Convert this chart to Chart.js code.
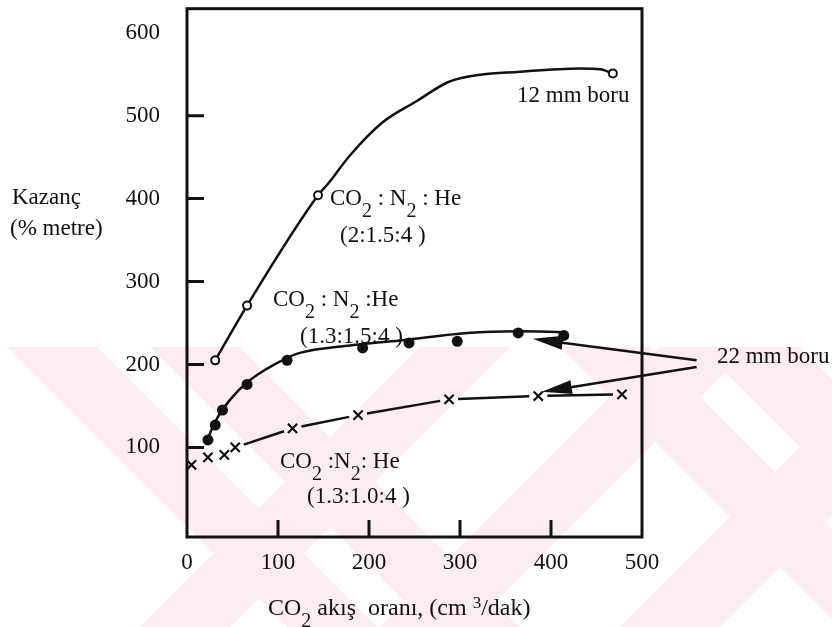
<!DOCTYPE html>
<html>
<head>
<meta charset="utf-8">
<script src="https://cdn.jsdelivr.net/npm/chart.js@4.4.1/dist/chart.umd.min.js"></script>
<style>
  html, body { margin: 0; padding: 0; background: #fff; }
  #wrap { position: relative; width: 832px; height: 627px; overflow: hidden; }
  #c { position: absolute; left: 0; top: 0; }
  .t { position: absolute; font-family: 'Liberation Serif', 'Times New Roman', serif; font-size: 23px; line-height: 23px; color: #111; white-space: pre; }
  .t sub { font-size: 20px; vertical-align: -12px; line-height: 0; }
  .t sup { font-size: 17px; vertical-align: 7px; line-height: 0; }
</style>
</head>
<body>
<div id="wrap">
  <canvas id="c" width="832" height="627"></canvas>

  <div class="t" style="left:12px;top:185px">Kazanç</div>
  <div class="t" style="left:10px;top:216px">(% metre)</div>

  <div class="t" style="left:330px;top:186px">CO<sub>2</sub> : N<sub>2</sub> : He</div>
  <div class="t" style="left:340px;top:223px">(2:1.5:4 )</div>

  <div class="t" style="left:273px;top:287px">CO<sub>2</sub> : N<sub>2</sub> :He</div>
  <div class="t" style="left:300px;top:324px">(1.3:1.5:4 )</div>

  <div class="t" style="left:280px;top:449px">CO<sub>2</sub> :N<sub>2</sub>: He</div>
  <div class="t" style="left:307px;top:484px">(1.3:1.0:4 )</div>

  <div class="t" style="left:517px;top:83px">12 mm boru</div>
  <div class="t" style="left:717px;top:344px">22 mm boru</div>

  <div class="t" style="left:268px;top:596px;font-size:24px">CO<sub>2</sub> akış  oranı, (cm <sup>3</sup>/dak)</div>
</div>

<script>
// axis ticks
const xTicks = [0, 100, 200, 300, 400, 500];
const yTicks = [100, 200, 300, 400, 500, 600];

// 12 mm boru, CO2:N2:He (2:1.5:4) - open circles
const ring12X = [31, 66, 144, 468];
const ring12Y = [205, 271, 404, 551];
// drawn curve through them
const curve12X = [31, 66, 144, 155, 179, 215, 253, 286, 308, 366, 432, 454, 468];
const curve12Y = [205, 271, 404, 418, 452, 492, 518, 540, 547, 553, 557, 556, 551];

// 22 mm boru, (1.3:1.5:4) - filled dots
const dot22X = [23, 31, 39, 66, 110, 193, 244, 297, 364, 414];
const dot22Y = [109, 127, 145, 176, 205, 220, 226, 228, 238, 235];
const curve22X = [23, 31, 47, 69, 110, 124, 179, 234, 308, 364, 413];
const curve22Y = [111, 131, 157, 181, 208, 214, 223, 229, 238, 240, 239];

// 22 mm boru, (1.3:1.0:4) - crosses, broken line from the 4th point on
const cross22X = [5, 23, 41, 53, 116, 188, 288, 386, 478];
const cross22Y = [79, 88, 91, 100, 123, 139, 158, 162, 164];
const crossLineFrom = 3;

// arrows from the "22 mm boru" label (data units)
const arrowFrom = [[560, 205], [560, 197]];
const arrowTo = [[380, 231], [390, 167]];

const pts = (xs, ys) => xs.map((x, i) => ({ x: x, y: ys[i] }));
const INK = '#111';
const serif = "'Liberation Serif', 'Times New Roman', serif";

const paperPlugin = {
    id: 'paper',
    beforeDraw(chart) {
        // faint pink watermark of the scanned page
        const ctx = chart.ctx;
        ctx.save();
        ctx.beginPath();
        ctx.rect(0, 347, 832, 280);
        ctx.clip();
        ctx.fillStyle = '#fdedf0';
        const band = (x0, w, dir) => {
            const h = 280;
            ctx.beginPath();
            ctx.moveTo(x0, 347);
            ctx.lineTo(x0 + w, 347);
            ctx.lineTo(x0 + w + dir * h, 627);
            ctx.lineTo(x0 + dir * h, 627);
            ctx.closePath();
            ctx.fill();
        };
        band(7, 90, 1);
        band(150, 90, 1);
        band(420, 90, -1);
        band(560, 90, 1);
        band(700, 100, 1);
        band(900, 100, -1);
        band(660, 90, -1);
        ctx.restore();
    },
    afterDatasetsDraw(chart) {
        const ctx = chart.ctx;
        const a = chart.chartArea;
        const xs = chart.scales.x;
        const ys = chart.scales.y;
        ctx.save();
        ctx.strokeStyle = INK;
        ctx.fillStyle = INK;

        // frame
        ctx.lineWidth = 3;
        ctx.strokeRect(a.left, a.top, a.right - a.left, a.bottom - a.top);

        // inward tick marks
        ctx.beginPath();
        xTicks.filter(v => v > xs.min && v < xs.max).forEach(v => {
            const px = xs.getPixelForValue(v);
            ctx.moveTo(px, a.bottom);
            ctx.lineTo(px, a.bottom - 17);
        });
        yTicks.filter(v => v < yTicks[yTicks.length - 1]).forEach(v => {
            const py = ys.getPixelForValue(v);
            ctx.moveTo(a.left, py);
            ctx.lineTo(a.left + 17, py);
        });
        ctx.stroke();

        // broken line between the crosses
        const meta = chart.getDatasetMeta(2);
        ctx.lineWidth = 2.5;
        ctx.beginPath();
        for (let i = crossLineFrom; i < meta.data.length - 1; i++) {
            const p = meta.data[i], q = meta.data[i + 1];
            const dx = q.x - p.x, dy = q.y - p.y;
            const g = 9 / Math.hypot(dx, dy);
            ctx.moveTo(p.x + dx * g, p.y + dy * g);
            ctx.lineTo(q.x - dx * g, q.y - dy * g);
        }
        ctx.stroke();

        // arrows
        arrowFrom.forEach((f, i) => {
            const x1 = xs.getPixelForValue(f[0]), y1 = ys.getPixelForValue(f[1]);
            const x2 = xs.getPixelForValue(arrowTo[i][0]), y2 = ys.getPixelForValue(arrowTo[i][1]);
            const ang = Math.atan2(y2 - y1, x2 - x1);
            const c = Math.cos(ang), s = Math.sin(ang);
            ctx.lineWidth = 2.5;
            ctx.beginPath();
            ctx.moveTo(x1, y1);
            ctx.lineTo(x2 - c * 20, y2 - s * 20);
            ctx.stroke();
            ctx.beginPath();
            ctx.moveTo(x2, y2);
            ctx.lineTo(x2 - c * 30 + s * 7, y2 - s * 30 - c * 7);
            ctx.lineTo(x2 - c * 30 - s * 7, y2 - s * 30 + c * 7);
            ctx.closePath();
            ctx.fill();
        });
        ctx.restore();
    }
};

new Chart(document.getElementById('c'), {
    type: 'scatter',
    data: {
        datasets: [
            {
                data: pts(ring12X, ring12Y),
                showLine: false,
                pointRadius: 4,
                pointBorderWidth: 2,
                pointBackgroundColor: '#fff',
                pointBorderColor: INK,
                order: 0
            },
            {
                data: pts(dot22X, dot22Y),
                showLine: false,
                pointRadius: 5.5,
                pointBorderWidth: 0,
                pointBackgroundColor: INK,
                pointBorderColor: INK,
                order: 0
            },
            {
                data: pts(cross22X, cross22Y),
                showLine: false,
                pointStyle: 'crossRot',
                pointRadius: 6.5,
                pointBorderWidth: 2.2,
                pointBorderColor: INK,
                order: 0
            },
            {
                data: pts(curve12X, curve12Y),
                showLine: true,
                pointRadius: 0,
                borderColor: INK,
                borderWidth: 2.5,
                cubicInterpolationMode: 'monotone',
                order: 1
            },
            {
                data: pts(curve22X, curve22Y),
                showLine: true,
                pointRadius: 0,
                borderColor: INK,
                borderWidth: 2.5,
                cubicInterpolationMode: 'monotone',
                order: 1
            }
        ]
    },
    options: {
        responsive: false,
        animation: false,
        events: [],
        layout: { padding: { left: 0, top: 8, right: 190, bottom: 0 } },
        plugins: { legend: { display: false }, tooltip: { enabled: false } },
        scales: {
            x: {
                type: 'linear',
                min: 0,
                max: 500,
                grid: { display: false, drawTicks: false },
                border: { display: false },
                afterBuildTicks: s => { s.ticks = xTicks.map(v => ({ value: v })); },
                afterFit: s => { s.height = 90; s.paddingLeft = 0; s.paddingRight = 0; },
                ticks: { color: INK, padding: 12, maxRotation: 0, font: { family: serif, size: 23 } }
            },
            y: {
                type: 'linear',
                min: -8,
                max: 629,
                grid: { display: false, drawTicks: false },
                border: { display: false },
                afterBuildTicks: s => { s.ticks = yTicks.map(v => ({ value: v })); },
                afterFit: s => { s.width = 187; s.paddingTop = 0; s.paddingBottom = 0; },
                ticks: { color: INK, padding: 27, font: { family: serif, size: 23 } }
            }
        }
    },
    plugins: [paperPlugin]
});
</script>
</body>
</html>
